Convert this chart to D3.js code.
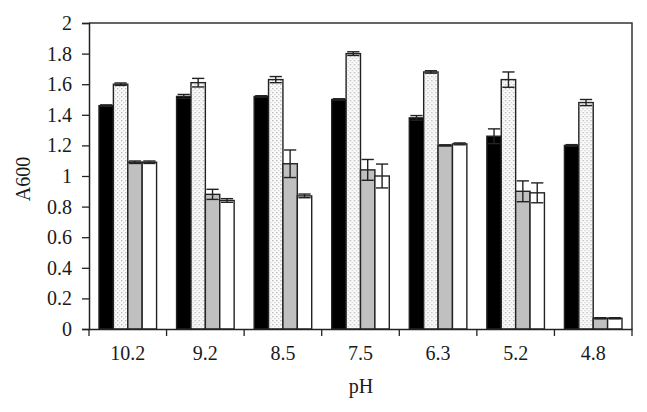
<!DOCTYPE html>
<html>
<head>
<meta charset="utf-8">
<script src="https://cdn.jsdelivr.net/npm/d3@7"></script>
<style>
  body { margin: 0; background: #fff; }
  svg text { font-family: "Liberation Serif", "Times New Roman", serif; fill: #1a1a1a; }
</style>
</head>
<body>
<div id="chart"></div>
<script>
// pH conditions on the x axis
const phLabels = ['10.2', '9.2', '8.5', '7.5', '6.3', '5.2', '4.8'];
// four series per pH (black, dotted, gray, white)
const seriesA = [1.46, 1.52, 1.52, 1.50, 1.38, 1.26, 1.20];
const seriesB = [1.60, 1.61, 1.63, 1.80, 1.68, 1.63, 1.48];
const seriesC = [1.09, 0.88, 1.08, 1.04, 1.20, 0.90, 0.07];
const seriesD = [1.09, 0.84, 0.87, 1.00, 1.21, 0.89, 0.07];
// error bars (standard deviation)
const errA = [0.005, 0.013, 0.005, 0.005, 0.015, 0.048, 0.005];
const errB = [0.008, 0.028, 0.02, 0.012, 0.008, 0.05, 0.02];
const errC = [0.008, 0.033, 0.09, 0.068, 0.004, 0.068, 0.004];
const errD = [0.008, 0.012, 0.012, 0.078, 0.006, 0.065, 0.004];
const yTicks = [0, 0.2, 0.4, 0.6, 0.8, 1, 1.2, 1.4, 1.6, 1.8, 2];

const W = 647, H = 412;
const m = { left: 89, right: 15, top: 23, bottom: 83 };
const font = '"Liberation Serif", "Times New Roman", serif';

const svg = d3.select('#chart').append('svg')
  .attr('width', W).attr('height', H);

// dotted fill
const defs = svg.append('defs');
const pat = defs.append('pattern')
  .attr('id', 'dots').attr('patternUnits', 'userSpaceOnUse')
  .attr('width', 4).attr('height', 4);
pat.append('rect').attr('width', 4).attr('height', 4).attr('fill', '#fbfbfb');
pat.append('rect').attr('x', 0).attr('y', 0).attr('width', 1.3).attr('height', 1.3).attr('fill', '#b5b5b5');
pat.append('rect').attr('x', 2).attr('y', 2).attr('width', 1.3).attr('height', 1.3).attr('fill', '#cfcfcf');

const series = [
  { vals: seriesA, err: errA, fill: '#000' },
  { vals: seriesB, err: errB, fill: 'url(#dots)' },
  { vals: seriesC, err: errC, fill: '#c0c0c0' },
  { vals: seriesD, err: errD, fill: '#fff' }
];

const x = d3.scaleBand().domain(phLabels)
  .range([m.left, W - m.right]).paddingInner(0).paddingOuter(0);
const x1 = d3.scaleBand().domain(d3.range(series.length))
  .range([10, x.bandwidth() - 10]);
const y = d3.scaleLinear().domain([0, 2]).range([H - m.bottom, m.top]);

// frame: top and right lines
svg.append('path')
  .attr('d', `M${m.left},${m.top}H${W - m.right}V${H - m.bottom}`)
  .attr('fill', 'none').attr('stroke', '#333').attr('stroke-width', 1.5);

// bars
const groups = svg.append('g').selectAll('g')
  .data(phLabels).join('g')
  .attr('transform', d => `translate(${x(d)},0)`);

series.forEach((s, si) => {
  groups.append('rect')
    .attr('x', x1(si))
    .attr('y', (d, i) => y(s.vals[i]))
    .attr('width', x1.bandwidth())
    .attr('height', (d, i) => y(0) - y(s.vals[i]))
    .attr('fill', s.fill)
    .attr('stroke', '#222').attr('stroke-width', 1.4);
});

// error bars
series.forEach((s, si) => {
  const cx = x1(si) + x1.bandwidth() / 2;
  const cw = x1.bandwidth() * 0.85;
  const eb = groups.append('g').attr('stroke', '#222').attr('stroke-width', 1.4);
  eb.append('line')
    .attr('x1', cx).attr('x2', cx)
    .attr('y1', (d, i) => y(s.vals[i] - s.err[i]))
    .attr('y2', (d, i) => y(s.vals[i] + s.err[i]));
  eb.append('line')
    .attr('x1', cx - cw / 2).attr('x2', cx + cw / 2)
    .attr('y1', (d, i) => y(s.vals[i] + s.err[i]))
    .attr('y2', (d, i) => y(s.vals[i] + s.err[i]));
  eb.append('line')
    .attr('x1', cx - cw / 2).attr('x2', cx + cw / 2)
    .attr('y1', (d, i) => y(s.vals[i] - s.err[i]))
    .attr('y2', (d, i) => y(s.vals[i] - s.err[i]));
});

// y axis
const yAxis = svg.append('g')
  .attr('transform', `translate(${m.left},0)`)
  .call(d3.axisLeft(y).tickValues(yTicks).tickSize(7).tickPadding(10)
    .tickFormat(d => String(+d.toFixed(1))));
yAxis.select('.domain').attr('stroke', '#222').attr('stroke-width', 1.5);
yAxis.selectAll('.tick line').attr('stroke', '#222').attr('stroke-width', 1.3);
yAxis.selectAll('text').attr('font-size', 20).attr('fill', '#1a1a1a')
  .style('font-family', font);

// x axis: ticks at category boundaries
const xAxis = svg.append('g')
  .attr('transform', `translate(0,${y(0)})`)
  .call(d3.axisBottom(x).tickSize(0).tickPadding(17));
xAxis.select('.domain').attr('stroke', '#222').attr('stroke-width', 1.5);
xAxis.selectAll('text').attr('font-size', 20).attr('fill', '#1a1a1a')
  .style('font-family', font);
const bounds = phLabels.map(d => x(d)).concat([x(phLabels[phLabels.length - 1]) + x.bandwidth()]);
xAxis.selectAll('.bound').data(bounds).join('line')
  .attr('class', 'bound')
  .attr('x1', d => d).attr('x2', d => d)
  .attr('y1', 0).attr('y2', 7)
  .attr('stroke', '#222').attr('stroke-width', 1.3);

// axis titles
svg.append('text')
  .attr('x', 361).attr('y', 393)
  .attr('text-anchor', 'middle').attr('font-size', 20)
  .style('font-family', font)
  .text('pH');
svg.append('text')
  .attr('transform', 'translate(30,179) rotate(-90)')
  .attr('text-anchor', 'middle').attr('font-size', 20)
  .style('font-family', font)
  .text('A600');
</script>
</body>
</html>
